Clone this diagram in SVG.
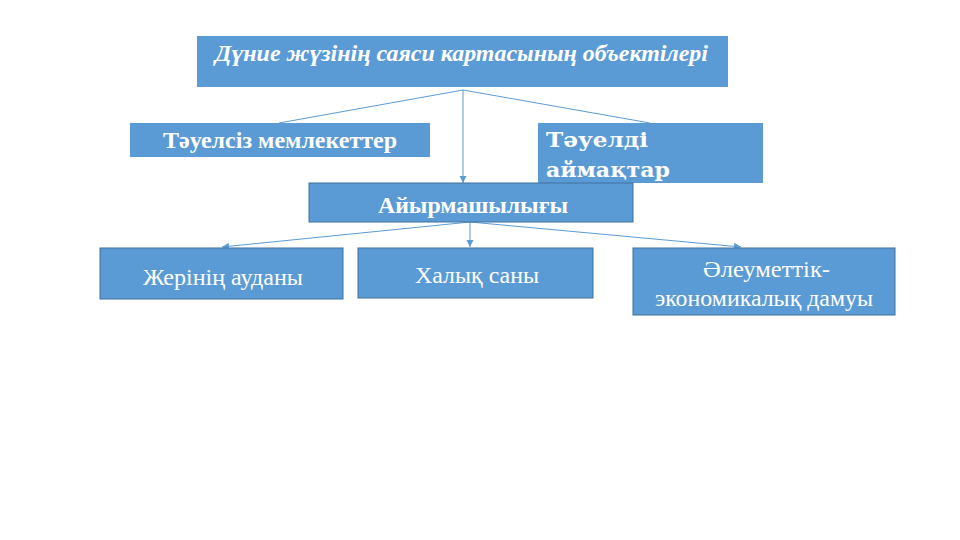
<svg xmlns="http://www.w3.org/2000/svg" width="960" height="540" viewBox="0 0 960 540">
<defs>
<style>
.box{fill:#5B9BD5;stroke:#41719C;stroke-width:1}
.top{fill:#5B9BD5}
.t{font-family:"Liberation Serif","DejaVu Serif",serif;fill:#FFFFFF}
.dj{font-family:"DejaVu Serif","Liberation Serif",serif}
.b{font-weight:bold}
.c{stroke:#5B9BD5;stroke-width:1;fill:none}
</style>
<marker id="ah" markerWidth="8" markerHeight="8" refX="7" refY="4" orient="auto" markerUnits="userSpaceOnUse">
<path d="M0,0.5 L7,4 L0,7.5 Z" fill="#5B9BD5"/>
</marker>
</defs>
<rect width="960" height="540" fill="#FFFFFF"/>
<g id="connectors">
<line class="c" x1="463" y1="90" x2="279" y2="123"/>
<line class="c" x1="463" y1="90" x2="650" y2="123"/>
<line class="c" x1="463" y1="90" x2="463" y2="183" marker-end="url(#ah)"/>
<line class="c" x1="470" y1="222" x2="222" y2="247" marker-end="url(#ah)"/>
<line class="c" x1="470" y1="222" x2="470" y2="247" marker-end="url(#ah)"/>
<line class="c" x1="470" y1="222" x2="741" y2="247" marker-end="url(#ah)"/>
</g>
<g id="n-title">
<rect class="top" x="197" y="36" width="531" height="51"/>
<text class="t b" x="215" y="61" font-size="24" font-style="italic" textLength="493" lengthAdjust="spacingAndGlyphs">Дүние жүзінің саяси картасының объектілері</text>
</g>
<g id="n-independent">
<rect class="top" x="130" y="123" width="300" height="34"/>
<text class="t b" x="163" y="148" font-size="23" textLength="234" lengthAdjust="spacingAndGlyphs">Тәуелсіз мемлекеттер</text>
</g>
<g id="n-dependent">
<rect class="top" x="538" y="123" width="225" height="60"/>
<text class="t dj b" x="546" y="147" font-size="21" textLength="102" lengthAdjust="spacingAndGlyphs">Тәуелді</text>
<text class="t dj b" x="546" y="177" font-size="21" textLength="124" lengthAdjust="spacingAndGlyphs">аймақтар</text>
</g>
<g id="n-diff">
<rect class="box" x="309" y="183" width="324" height="39"/>
<text class="t b" x="378" y="213" font-size="24" textLength="190" lengthAdjust="spacingAndGlyphs">Айырмашылығы</text>
</g>
<g id="n-area">
<rect class="box" x="100" y="248" width="243" height="51"/>
<text class="t" x="143" y="285" font-size="24" textLength="160" lengthAdjust="spacingAndGlyphs">Жерінің ауданы</text>
</g>
<g id="n-pop">
<rect class="box" x="358" y="248" width="235" height="50"/>
<text class="t" x="415" y="283" font-size="24" textLength="124" lengthAdjust="spacingAndGlyphs">Халық саны</text>
</g>
<g id="n-socio">
<rect class="box" x="633" y="248" width="262" height="67"/>
<text class="t" x="703" y="277" font-size="24" textLength="127" lengthAdjust="spacingAndGlyphs">Әлеуметтік-</text>
<text class="t" x="655" y="306" font-size="24" textLength="218" lengthAdjust="spacingAndGlyphs">экономикалық дамуы</text>
</g>
</svg>
